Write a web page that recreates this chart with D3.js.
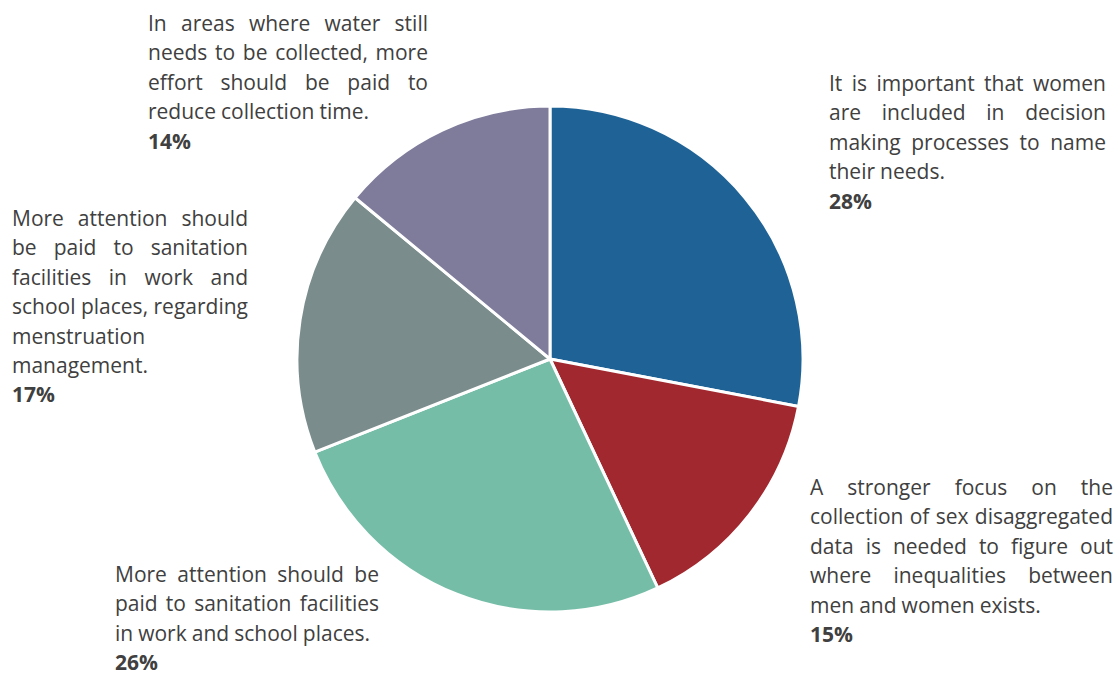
<!DOCTYPE html>
<html>
<head>
<meta charset="utf-8">
<script src="https://cdn.jsdelivr.net/npm/d3@7/dist/d3.min.js"></script>
<style>
  html, body { margin: 0; padding: 0; background: #fff; }
  svg { display: block; }
</style>
</head>
<body>
<svg id="chart" width="1119" height="675"></svg>
<script>
// ---- Data ----
const categories = [
  "It is important that women\nare included in decision\nmaking processes to name\ntheir needs.",
  "A stronger focus on the\ncollection of sex disaggregated\ndata is needed to figure out\nwhere inequalities between\nmen and women exists.",
  "More attention should be\npaid to sanitation facilities\nin work and school places.",
  "More attention should\nbe paid to sanitation\nfacilities in work and\nschool places, regarding\nmenstruation\nmanagement.",
  "In areas where water still\nneeds to be collected, more\neffort should be paid to\nreduce collection time."
];
const values = [28, 15, 26, 17, 14];
const valueLabels = ["28%", "15%", "26%", "17%", "14%"];
const colors = ["#1F6396", "#A1282E", "#75BDA7", "#7A8C8B", "#7E7B9B"];

// ---- Layout ----
const cx = 550, cy = 359, radius = 253;
const labelBoxes = [
  { x: 829, y: 91,  w: 277 },
  { x: 810, y: 495, w: 303 },
  { x: 115, y: 582, w: 264 },
  { x: 12,  y: 226, w: 236 },
  { x: 148, y: 31,  w: 280 }
];
const lineH = 29.4;
const fontFamily = "'Open Sans', Lato, sans-serif";
const textColor = "#404040";

const svg = d3.select("#chart");

// fit font size so that a reference line matches its width in the original
const probe = svg.append("text").attr("font-family", fontFamily).attr("font-size", 20)
  .text("reduce collection time.");
const probeW = probe.node().getComputedTextLength();
probe.remove();
const fontSize = Math.min(22, 20 * 222 / probeW);

const pie = d3.pie().sort(null).value(d => d)
  .startAngle(0).endAngle(2 * Math.PI);
const arc = d3.arc().innerRadius(0).outerRadius(radius);

svg.append("g")
  .attr("transform", `translate(${cx},${cy})`)
  .selectAll("path")
  .data(pie(values))
  .join("path")
  .attr("d", arc)
  .attr("fill", (d, i) => colors[i])
  .attr("stroke", "#fff")
  .attr("stroke-width", 3)
  .attr("stroke-linejoin", "round");

// ---- Justified labels ----
const labelsG = svg.append("g");
categories.forEach((txt, i) => {
  const box = labelBoxes[i];
  const g = labelsG.append("g");
  const lines = txt.split("\n");
  lines.forEach((line, li) => {
    const words = line.split(" ");
    const y = box.y + li * lineH;
    const texts = words.map(w => g.append("text")
      .attr("y", y)
      .attr("font-family", fontFamily)
      .attr("font-size", fontSize)
      .attr("fill", textColor)
      .text(w));
    const widths = texts.map(t => t.node().getComputedTextLength());
    const isLast = li === lines.length - 1;
    let gap;
    const spaceW = fontSize * 0.24;
    if (isLast || words.length === 1) {
      gap = spaceW;
    } else {
      gap = (box.w - d3.sum(widths)) / (words.length - 1);
    }
    let x = box.x;
    texts.forEach((t, k) => {
      t.attr("x", x);
      x += widths[k] + gap;
    });
  });
  g.append("text")
    .attr("x", box.x)
    .attr("y", box.y + lines.length * lineH)
    .attr("font-family", fontFamily)
    .attr("font-size", fontSize)
    .attr("font-weight", "bold")
    .attr("fill", textColor)
    .text(valueLabels[i]);
});
</script>
</body>
</html>
